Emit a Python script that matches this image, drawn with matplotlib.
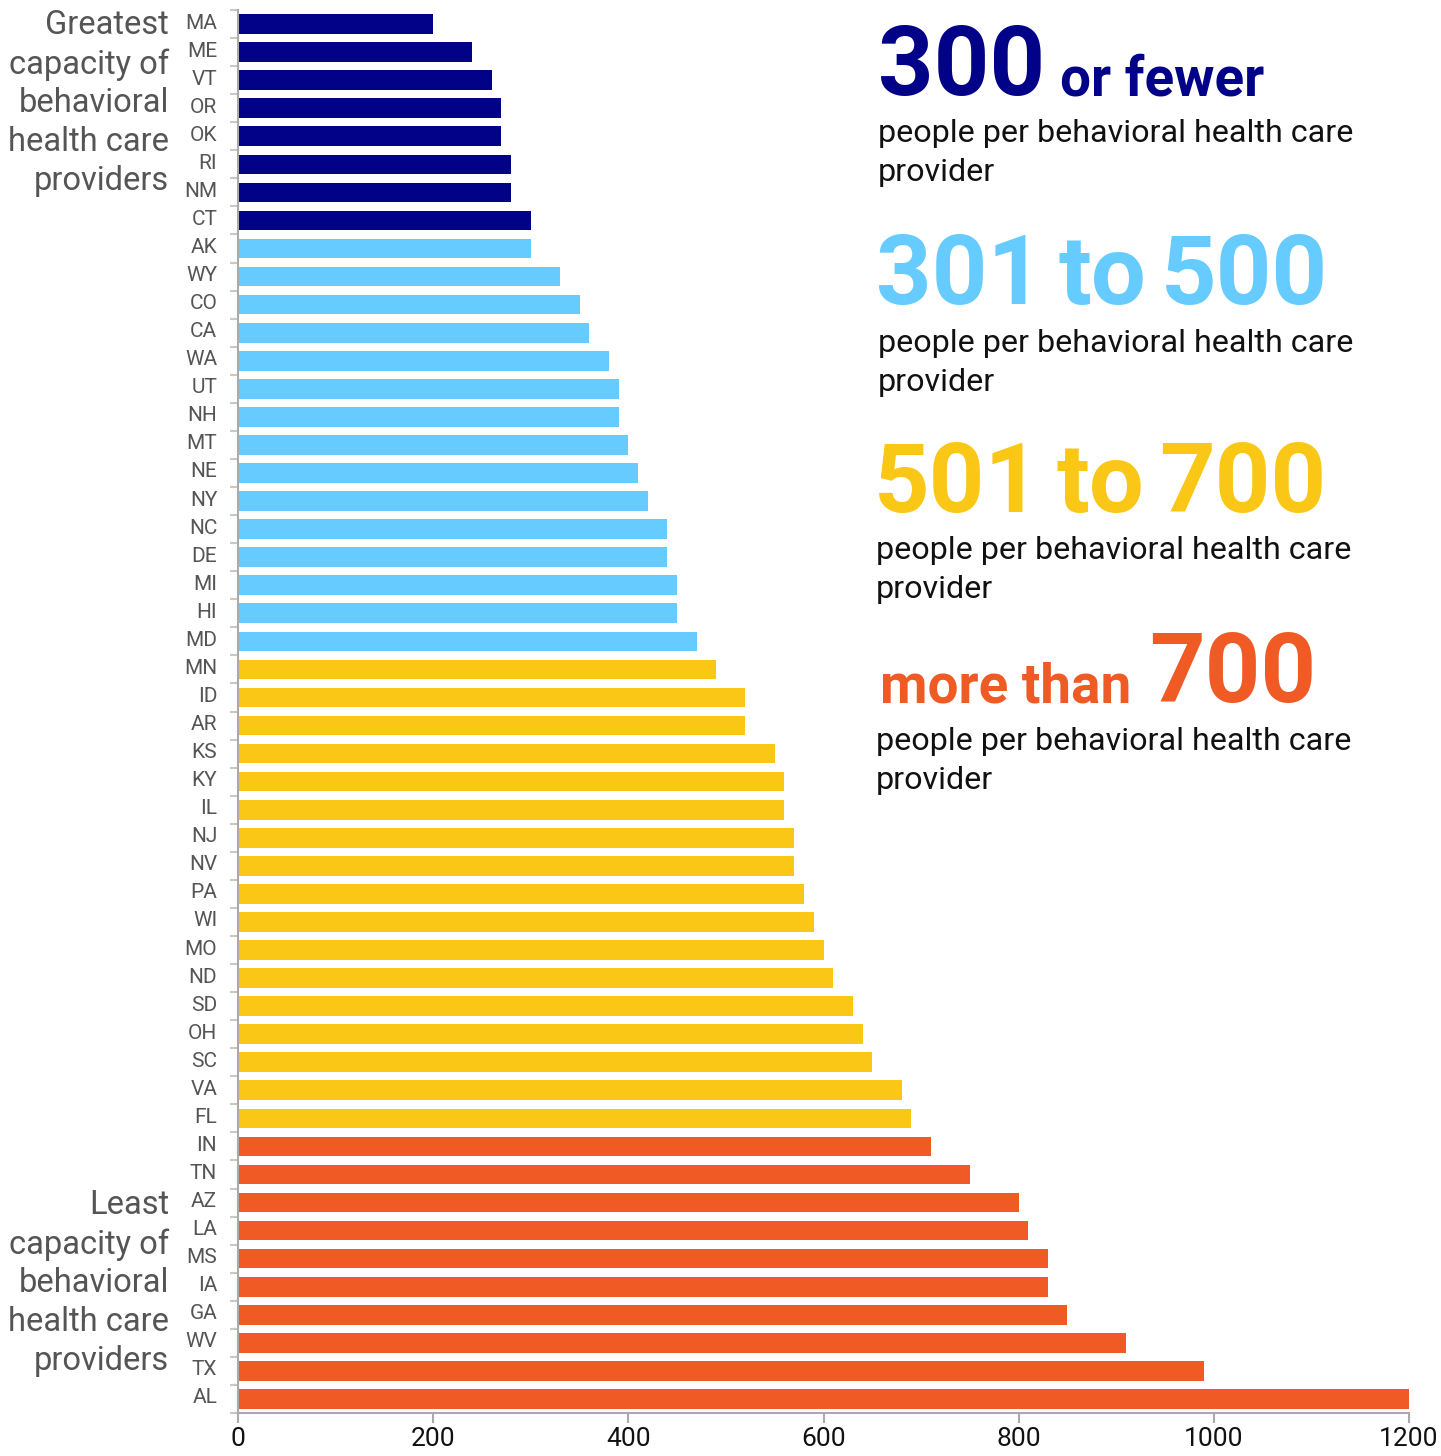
import matplotlib
matplotlib.use('Agg')
import matplotlib.pyplot as plt
import numpy as np
from matplotlib.ticker import FixedLocator
from matplotlib.transforms import ScaledTranslation

states = ['MA', 'ME', 'VT', 'OR', 'OK', 'RI', 'NM', 'CT', 'AK', 'WY', 'CO', 'CA', 'WA', 'UT',
          'NH', 'MT', 'NE', 'NY', 'NC', 'DE', 'MI', 'HI', 'MD', 'MN', 'ID', 'AR', 'KS', 'KY',
          'IL', 'NJ', 'NV', 'PA', 'WI', 'MO', 'ND', 'SD', 'OH', 'SC', 'VA', 'FL', 'IN', 'TN',
          'AZ', 'LA', 'MS', 'IA', 'GA', 'WV', 'TX', 'AL']
values = [200, 240, 260, 270, 270, 280, 280, 300, 300, 330, 350, 360, 380, 390,
          390, 400, 410, 420, 440, 440, 450, 450, 470, 490, 520, 520, 550, 560,
          560, 570, 570, 580, 590, 600, 610, 630, 640, 650, 680, 690, 710, 750,
          800, 810, 830, 830, 850, 910, 990, 1200]
groups = ['300 or fewer'] * 8 + ['301 to 500'] * 15 + ['501 to 700'] * 17 + ['more than 700'] * 10
group_colors = {'300 or fewer': '#020288', '301 to 500': '#66CBFF',
                '501 to 700': '#FAC716', 'more than 700': '#F05A24'}
xticks = [0, 200, 400, 600, 800, 1000, 1200]

W, H = 1441, 1456
fig = plt.figure(figsize=(W / 100, H / 100), dpi=100)
ax = fig.add_axes([238 / W, 1 - 1413 / H, (1409 - 238) / W, (1413 - 10) / H])

y = np.arange(len(states))
ax.barh(y, values, height=0.7, color=[group_colors[g] for g in groups])
ax.set_ylim(len(states) - 0.5, -0.5)
ax.set_xlim(0, 1200)

ax.set_yticks(y)
ax.set_yticklabels(states, family='Roboto', fontsize=15, color='#555555')
ax.yaxis.set_minor_locator(FixedLocator(np.arange(-0.5, len(states), 1)))
ax.tick_params(axis='y', which='major', length=0, pad=15)
ax.tick_params(axis='y', which='minor', length=6, width=1.5, color='#c8c8c8')
shift = ScaledTranslation(0, 3 / 100, fig.dpi_scale_trans)
for lab in ax.get_yticklabels():
    lab.set_transform(lab.get_transform() + shift)

ax.set_xticks(xticks)
ax.set_xticklabels([str(v) for v in xticks], family='Roboto', fontsize=19, color='#111111')
ax.tick_params(axis='x', length=7, width=1.5, color='#aaaaaa', pad=3)

for s in ['top', 'right']:
    ax.spines[s].set_visible(False)
for s in ['left', 'bottom']:
    ax.spines[s].set_color('#aaaaaa')
    ax.spines[s].set_linewidth(1.5)

def fx(px):
    return px / W

def fy(py):
    return 1 - py / H

side = dict(ha='right', va='center', fontsize=23.5, color='#555555', family='Roboto', linespacing=1.27)
fig.text(fx(169), fy(103), 'Greatest\ncapacity of\nbehavioral\nhealth care\nproviders', **side)
fig.text(fx(169), fy(1283), 'Least\ncapacity of\nbehavioral\nhealth care\nproviders', **side)

# right legend-like annotation
fig.canvas.draw()
renderer = fig.canvas.get_renderer()

big = dict(fontsize=70, fontweight='bold', family='Roboto', va='baseline', ha='left')
small = dict(fontsize=39.5, fontweight='bold', family='Roboto', va='baseline', ha='left')

def words(x, ybase, parts, color, gap=18):
    cur = x
    for txt, style in parts:
        t = fig.text(cur / W, fy(ybase), txt, color=color, **style)
        bb = t.get_window_extent(renderer)
        cur = bb.x1 + gap

words(878, 95, [('300', big), ('or fewer', small)], group_colors['300 or fewer'], gap=15)
words(876, 304, [('301', big), ('to', big), ('500', big)], group_colors['301 to 500'], gap=15)
words(874, 512, [('501', big), ('to', big), ('700', big)], group_colors['501 to 700'], gap=15)
words(880, 702, [('more than', small), ('700', big)], group_colors['more than 700'], gap=18)

body = dict(fontsize=23.2, family='Roboto', color='#111111', ha='left', va='center', linespacing=1.4)
txt = 'people per behavioral health care\nprovider'
fig.text(fx(878), fy(153), txt, **body)
fig.text(fx(878), fy(363), txt, **body)
fig.text(fx(876), fy(570), txt, **body)
fig.text(fx(876), fy(761), txt, **body)

fig.savefig('out.png', dpi=100)
